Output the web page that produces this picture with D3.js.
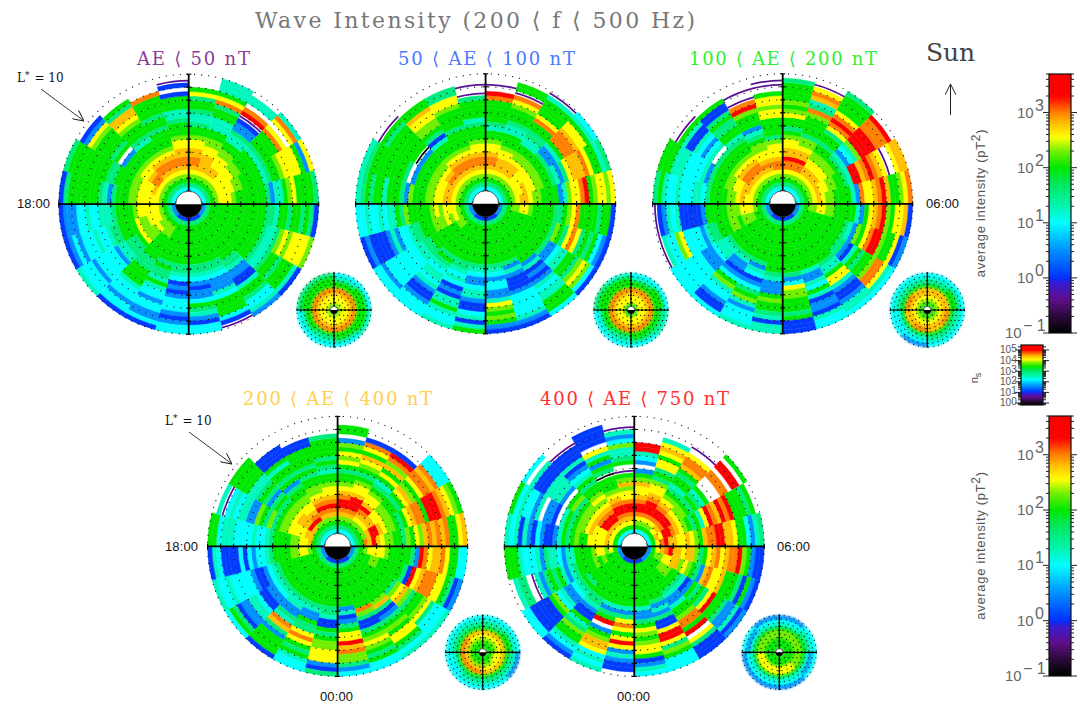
<!DOCTYPE html>
<html><head><meta charset="utf-8">
<script src="https://cdn.jsdelivr.net/npm/d3@7"></script>
<style>html,body{margin:0;background:#fff}svg{display:block}</style></head>
<body><svg id="c" width="1084" height="704"></svg>
<script>
// Level codes -> log10(average intensity / pT^2)
const levelCodes  = ["x","k","b","a","c","t","s","g","l","y","h","o","r"];
const levelValues = [-1,-0.35,0.05,0.5,1.0,1.25,1.55,2.0,2.3,2.55,2.8,3.0,3.4];

// Sector rows clockwise from noon (24 MLT hours), 27 L-bins inner -> outer ("." = no data)
const sectorsAE50 = [
"csglyhoohh yylggsttsg gsyg...","csglyhhhhy yllggtttgg soygttt","csglyhhyyy llggttsaab kro.tt.","csglyyyyyl lggggtsggg goy.yot",
"csglyyyyll gggggtsggl yyyygay","csglyyylgg gggggsattg lyggggs","asgggggggg gggggsstgg sggsgsb","asgggggggg gggggsttsl ylyyyyl",
"asgggggggg gggggsttsg gsgggtb","bsgggggggg ggsstaabbt ggsccta","bsgggggggg gsstcaaatc ggggcbk","bsgggggggg gsstcabaac gstabcc",
"bsgggggggg gsstcbabac ccabacc","bsgggggggg gsgsstgtcc accaacb","bsglllgggg ggsssggggt cccaccb","asgllyllly gsssttaccc ccaccct",
"asglyyylly ggggsstcct cccacab","asglyyyyyl ggggstttcc tccaaab","csglyyyyyl lgggsatsgg gggggsb","csglyhyyyl lggggssggg ggggggs",
"csglyoohyy lggga.gsgg gglyab.","csglyhoohy lgggtsgggl yhhsg..","csglyhoohy lggggsggsg gggo...","csglyhoohh yylgggsttg ggb.bk."];
const sectorsAE100 = [
"csglyhoohy ylggtsgggg gor.k..","csglyhhhyy lgggttsggg lyokgg.","csglyhhhyl lggttssggo yggggtk","csglyyyyyl lggsaatgoo ohyygtc",
"csglyyhyyl lggstasyhh hoyggts","csglyhhyll ggggatlyyo rglyyly","asgllyylgg gggssglyog gggsggb","asgggggggg gggslgsyoy sgsgcab",
"asgggggggg gggsaacttg gslylcb","bsgggggggg gggatbabat cttgggc","bsgggggggg gsatabbbac cccctab","bsgggggggg gstcaccaat ylglgab",
"bsgggggggg gstcaactta bbctbtg","bsgggggggg gsstctcbab ttgtcct","bsgggggggg gsgstcttct abbaccc","asgllggggg ggssttcccc ccccacc",
"asglylylll gggsstccat abbbbab","asglyyylyl ggggglsgtt ctcctcc","csglyhhyyl lggglasggg tggsgst","csglyhhyyl lggga.sggg gggggst",
"csglyhohyl lgggaxgggg gggsgk.","csglyhoohy lgggtbsgll yyhgg..","csglyhoohy lggggsgggg lyyss..","csglyhoohy ylgggstggg gsk.k.."];
const sectorsAE200 = [
"csglyoorhh yylgsggylg lggggs.","csglyoorhh yllsgggglo sthoyk.","csglyhhyyl lggsggsyor oyggggs","csglyhhyyl lgstactlrr rrooor.",
"csglyhyyll ggstrrhoro hyk.yhh","csglyhyllg gggtaoyyho rhgglyo","asgllyyllg ggggtagyho rlgyyhb","asgggggggg ggstalgyor rlggyba",
"asgggggggg ggssabtgsg glooytc","bsgggggggg gggsttgyyt abbattc","bsgggggggg gggtaatcgt baabtcc","bsgggggggg gggsacyllg ggsgbbb",
"bsgggggggg gggstaaagl ggstbtt","bsgggggggg gsatcbacsg ltaccct","bsgggggggg gstaabacgl tccabbc","asgggggggg gstttcaaac ccccccc",
"asgglllgll gggsstaccc cylcctk","asglyyylll gggggabbbb btctabk","csglyyhyll ggggscttcc ctcctgs","csglyhhyyl lgggsatccc ctttggg",
"csglyhoohy lgggs.tcac tbbtgk.","csglyhoohy lgggstggss gsbbg..","csglyhohyy llgstagggl rok.k..","csglyoohyy ylsggggyyl yyg.kk."];
const sectorsAE400 = [
"csglhorroh ylggsgylyg la.gg..","csglhorrrh yylgsglyhg yob....","csglyhorhy ylgstgyghl orb....","csglyhhyyl lggsgyhlgy oohoccc",
"csglhrrhyl lgsgyhoogr rrohylg","csgohrhyll ggslgylhoh ohoggyh","asglyyyylg ggggsaroyh hoyggcc","asgggllggg gggsbryhoo oyygsba",
"asgggggggg ggslyhlsgg lysccct","bsgggggggg gglhsbasgl gyygsct","bsgggggggg ggolsbbsgl ylgsgcc","bsgggggggg gatbasgyyr hollsac",
"bsgggggggg gsstbbgsgl lyyyabs","bsgggggggg gstaagssyo ygsgtcc","bsgggggggg gsttaastoh saggggb","asgggggggg gstcaabbct taabsgc",
"asgggggggg gstcabbacc ccctcct","asglyyllgg ggstccacbc bbbbctb","csghyyllgg ggstcctccc ctttcgg","csghhyyyyl lgslsglaat tctckt.",
"csghrhhhyl lgsgsasgst tggggg.","csglrohyyl lggsagsggt gbbb...","csglhorohy llggsgsggg gbb....","csglhorohy ylggtsgsgg ggs...."];
const sectorsAE750 = [
"cglyorrohy yhlga.actr r......","cglyorrroh yylsgsyygy hyt....","cglyorrohy lgstggsgho oy.k...","cgyhorrhyl lgsgstg... oo.rr.g",
"cghyrrohyl gsgtyrohro rgggsg.","cgyorhhyyh ylghoorrhh yggcats","agyhorhhyh hlsgyhoyho orlgabb","agllyyhhly lgsahoyyhg ggsbgab",
"aggglllggs tbagsgsyrg gsaatba","aggggggggs taatggloog r.ysbbb","bggggggggg satasbbyrr yslgccc","bggggggggg gtaasgylgl yygbatc",
"bggggggggg gtasyoygyr yatabb.","bggggggggg gtasgr.agl hhyctct","bggggggggg gsstabbgts lggtcab","aggggggggs gstcaatclg bbbbbcc",
"aggglglggg gstatgsgsa tk.sst.","agylyylggg gttacttsat ccctggg","cgyhyyyygg lgsgtabbac batbtct","cgyhyyyhyl lgsgt.baa. tacctcg",
"cgyhrrohyl lgslg.attt tbbbt.c","cgyhrrohyl ylggsgtcab tbbbk..","cgyhorrohy lgggxsgagt y.bbbb.","cgyhorroyy lhlgk.gstt lcatk.."];

// Inset (number of samples n_s) sector rows clockwise from noon, 9 L-bins inner -> outer
const insetAE50  = ["lyyhoggtc","lyyhogggc","lyyhogggt","lyyhoggsc","lyyhogstc","lyyhoggtc","lyyhogggs","lyyhogggs"];
const insetAE100 = ["gyyhoggtc","gyyhogggc","gyyhoggst","gyyhoggsc","gyyhogstc","gyyhoggtc","gyyhogggs","gyyhogggt"];
const insetAE200 = ["glyhhgstc","glyhhggsc","glyhogstc","glyhhgstc","glyhogtca","glyhhgtcc","glyhogstc","glyhhgstc"];
const insetAE400 = ["gglyhgstc","gglyhggtc","ggyyhgsta","gglyhgstc","gglhogstc","gglhogtcc","gglhogstc","gglyhgstc"];
const insetAE750 = ["gggllgtca","gggllgstc","gggllgtac","gggyygtca","gggyygtca","gggyygtca","gggllgtac","gggllgtca"];

const panelTitles = ["AE ⟨ 50 nT","50 ⟨ AE ⟨ 100 nT","100 ⟨ AE ⟨ 200 nT","200 ⟨ AE ⟨ 400 nT","400 ⟨ AE ⟨ 750 nT"];
const titleColors = ["#8a3a98","#4a78ff","#30f030","#ffcf50","#ff3030"];
const barTicksLog = [-1,0,1,2,3];
const countTicksLog = [0,1,2,3,4,5];

const colorDomain = [-1,-0.7,-0.4,-0.1,0,0.5,1,1.3,1.7,2,2.3,2.55,2.8,3,3.3,3.7];
const colorRange  = ["#000000","#2a0a3a","#5f0f88","#3a1ad0","#0030ff","#0090ff","#00ffff","#00f5b0","#00e860","#00e800","#70f000","#ffff00","#ffc000","#ff8000","#ff0000","#ff0000"];
const colorScale = d3.scaleLinear().domain(colorDomain).range(colorRange).clamp(true);
const levelOf = Object.fromEntries(levelCodes.map((c,i)=>[c,levelValues[i]]));

const svg = d3.select("#c");
const defs = svg.append("defs");
[["soft",0.6],["softer",1.0]].forEach(([id,s])=>defs.append("filter").attr("id",id).attr("x","-5%").attr("y","-5%").attr("width","110%").attr("height","110%")
  .append("feGaussianBlur").attr("stdDeviation",s));
defs.append("marker").attr("id","head").attr("viewBox","0 0 10 10").attr("refX",10).attr("refY",5)
  .attr("markerWidth",11).attr("markerHeight",11).attr("markerUnits","userSpaceOnUse").attr("orient","auto")
  .append("path").attr("d","M0,0L10,5L0,10").attr("fill","none").attr("stroke","#222").attr("stroke-width",0.9);

function polar(group, rows, cx, cy, R, dotGap, axisW, tick, filt){
  const g = group.append("g").attr("transform",`translate(${cx},${cy})`);
  const parsed = rows.map(s=>s.replace(/ /g,"").split(""));
  const nS = parsed.length, nR = parsed[0].length;
  const rS = d3.scaleLinear([0,10],[0,R]);
  const binL = d3.scaleLinear([0,nR],[1,10]);
  const aS = d3.scaleLinear([0,nS],[0,2*Math.PI]);
  const cells = parsed.flatMap((row,i)=>row.map((c,j)=>({i,j,c}))).filter(d=>d.c!==".");
  const arc = d3.arc();
  // purple and black readings are thin arcs in the picture, drawn unsoftened
  const isThin = d=>d.c==="k"||d.c==="x";
  g.append("g").attr("filter",`url(#${filt})`).selectAll("path").data(cells.filter(d=>!isThin(d))).join("path")
    .attr("d",d=>arc({innerRadius:rS(binL(d.j)),outerRadius:rS(binL(d.j+1)),startAngle:aS(d.i),endAngle:aS(d.i+1)}))
    .attr("fill",d=>colorScale(levelOf[d.c]))
    .attr("stroke",d=>colorScale(levelOf[d.c])).attr("stroke-width",0.4);
  g.append("g").selectAll("path").data(cells.filter(isThin)).join("path")
    .attr("d",d=>arc({innerRadius:rS(binL(d.j+0.3)),outerRadius:rS(binL(d.j+0.7)),startAngle:aS(d.i),endAngle:aS(d.i+1)}))
    .attr("fill",d=>colorScale(levelOf[d.c]));
  // dotted L-shell circles
  g.append("g").attr("fill","none").attr("stroke","#111").attr("stroke-width",1.1)
    .attr("stroke-dasharray",`1.1 ${dotGap}`)
    .selectAll("circle").data(d3.range(2,11)).join("circle").attr("r",d=>rS(d));
  // axes
  const ax = g.append("g").attr("stroke","#000").attr("stroke-width",axisW);
  ax.append("line").attr("x1",-R).attr("x2",R);
  ax.append("line").attr("y1",-R).attr("y2",R);
  const lts = d3.range(-10,11).filter(d=>d!==0);
  ax.selectAll(".tx").data(lts).join("line").attr("class","tx").attr("stroke-width",1.1)
    .attr("x1",d=>d*R/10).attr("x2",d=>d*R/10).attr("y1",-tick).attr("y2",tick);
  ax.selectAll(".ty").data(lts).join("line").attr("class","ty").attr("stroke-width",1.1)
    .attr("y1",d=>d*R/10).attr("y2",d=>d*R/10).attr("x1",-tick).attr("x2",tick);
  // Earth
  const er = rS(1);
  g.append("circle").attr("r",er).attr("fill","#fff").attr("stroke","#333").attr("stroke-width",0.8);
  g.append("path").attr("d",d3.arc()({innerRadius:0,outerRadius:er,startAngle:Math.PI/2,endAngle:3*Math.PI/2})).attr("fill","#000");
}

const mains = [
 {rows:sectorsAE50, cx:188.7,cy:204.2,ix:334,  iy:310,  ins:insetAE50},
 {rows:sectorsAE100,cx:485.6,cy:203.8,ix:631,  iy:310,  ins:insetAE100},
 {rows:sectorsAE200,cx:782.7,cy:203.8,ix:927.3,iy:310,  ins:insetAE200},
 {rows:sectorsAE400,cx:337.6,cy:546.4,ix:482.7,iy:652.3,ins:insetAE400},
 {rows:sectorsAE750,cx:634.3,cy:546.4,ix:779.3,iy:652.3,ins:insetAE750}];
mains.forEach(p=>{
  polar(svg,p.rows,p.cx,p.cy,130,6,1.8,2.6,"soft");
  polar(svg,p.ins,p.ix,p.iy,37,4,1.2,1,"softer");
});

// Text
const serif = "'DejaVu Serif','Liberation Serif',serif", sans="'Liberation Sans',Arial,sans-serif";
function txt(s,x,y,size,fill,opt={}){
  const t = svg.append("text").attr("x",x).attr("y",y).attr("font-size",size).attr("fill",fill)
    .attr("font-family",opt.family||serif).text(s);
  if(opt.len) t.attr("textLength",opt.len).attr("lengthAdjust","spacing");
  return t;
}
txt("Wave Intensity (200 ⟨ f ⟨ 500 Hz)",255,28,22,"#777",{len:440});
const tPos=[[137,65,113],[398,65,177],[689,65,188],[243,405,189],[540,405,189]];
panelTitles.forEach((s,i)=>txt(s,tPos[i][0],tPos[i][1],18,titleColors[i],{len:tPos[i][2]}));
txt("Sun",926,61,25,"#444",{len:49});
svg.append("line").attr("x1",950.5).attr("x2",950.5).attr("y1",115).attr("y2",84).attr("stroke","#222").attr("stroke-width",1).attr("marker-end","url(#head)");
[["18:00",17,208],["06:00",926,208],["18:00",165,551],["06:00",777,551],["00:00",320,701],["00:00",617,701]]
  .forEach(d=>txt(d[0],d[1],d[2],13,"#111",{family:sans,len:33}));
[[17,82,41,89,84,121],[165,425,189,432,232,464]].forEach(d=>{
  const t=svg.append("text").attr("x",d[0]).attr("y",d[1]).attr("font-size",12).attr("font-family",serif).attr("fill","#111");
  t.append("tspan").text("L");
  t.append("tspan").attr("dy",-4).attr("font-size",9).text("*");
  t.append("tspan").attr("dy",4).attr("dx",5).text("= 10");
  svg.append("line").attr("x1",d[2]).attr("y1",d[3]).attr("x2",d[4]).attr("y2",d[5]).attr("stroke","#222").attr("stroke-width",0.9).attr("marker-end","url(#head)");
});

// Colour bars
const grad = defs.append("linearGradient").attr("id","bar").attr("x1",0).attr("y1",1).attr("x2",0).attr("y2",0);
d3.range(0,101).forEach(k=>{const v=-1+4.7*k/100;grad.append("stop").attr("offset",k+"%").attr("stop-color",colorScale(v));});
function colorBar(top,bottom,x,w,logMin,logMax,ticks){
  const y = d3.scaleLinear([logMin,logMax],[bottom,top]);
  svg.append("rect").attr("x",x).attr("y",top).attr("width",w).attr("height",bottom-top).attr("fill","url(#bar)").attr("stroke","#111").attr("stroke-width",1.2);
  const minor = d3.range(Math.floor(logMin),Math.floor(logMax)+1).flatMap(e=>d3.range(2,10).map(m=>e+Math.log10(m))).filter(v=>v>logMin&&v<logMax);
  [[x,-1],[x+w,1]].forEach(([px,dir])=>{
    const a = svg.append("g").attr("stroke","#222").attr("stroke-width",1);
    a.selectAll(".m").data(minor).join("line").attr("x1",px).attr("x2",px+dir*3).attr("y1",d=>y(d)).attr("y2",d=>y(d));
    a.selectAll(".M").data(ticks).join("line").attr("x1",px).attr("x2",px+dir*6).attr("y1",d=>y(d)).attr("y2",d=>y(d));
  });
  return y;
}
function barLabels(y,xb,size,gap){
  barTicksLog.forEach(v=>{
    const neg=v<0, x0=neg?xb-12:xb;
    txt("10",x0,y(v)+5,size,"#666",{family:sans});
    txt(neg?"− 1":String(v),x0+size*1.2,y(v)-gap,size+1,"#666",{family:sans});
  });
}
[[74,333],[416,676]].forEach(([t,b])=>{
  const y = colorBar(t,b,1049,22,-1,3.7,barTicksLog);
  barLabels(y,1017,15,2);
  const cy=(t+b)/2+1;
  const a=svg.append("text").attr("transform",`translate(985,${cy-1.5}) rotate(-90)`).attr("text-anchor","middle")
    .attr("font-family",sans).attr("font-size",13).attr("fill","#555").attr("letter-spacing",0.7);
  a.append("tspan").text("average intensity (pT");
  a.append("tspan").attr("dy",-5).attr("font-size",12).text("2");
  a.append("tspan").attr("dy",5).text(")");
});
const ns = colorBar(345,405,1021,22,-0.19,5.47,countTicksLog);
countTicksLog.forEach(v=>{
  const t=svg.append("text").attr("x",1000).attr("y",ns(v)+3.5).attr("font-family",sans).attr("font-size",10).attr("fill","#555");
  t.append("tspan").text("10");
  t.append("tspan").attr("dy",-1.5).text(String(v));
});
const nsT=svg.append("text").attr("transform","translate(978,378) rotate(-90)").attr("text-anchor","middle").attr("font-family",sans).attr("font-size",11).attr("fill","#444");
nsT.append("tspan").text("n");nsT.append("tspan").attr("dy",3).attr("font-size",9).text("s");
</script></body></html>
